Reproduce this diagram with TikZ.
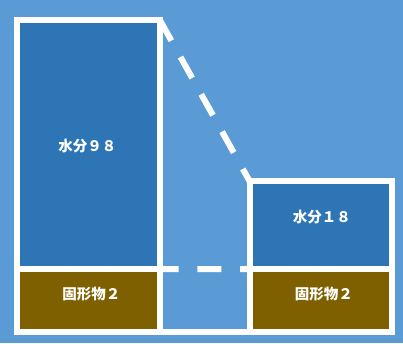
\documentclass[tikz,border=0pt]{standalone}
\usepackage{fontspec}
\newfontfamily\cjk{Noto Sans CJK JP}
\definecolor{bg}{HTML}{5B9BD5}
\definecolor{water}{HTML}{2E75B6}
\definecolor{solid}{HTML}{7F6000}
\begin{document}
\begin{tikzpicture}[x=1pt,y=-1pt,
  blk/.style={draw=white,line width=6pt,outer sep=0pt,inner sep=0pt},
  wline/.style={draw=white,line width=6pt},
  dashln/.style={wline,dash pattern=on 24pt off 18.7pt},
  lbl/.style={text=white,font=\cjk\bfseries\fontsize{14.5}{16}\selectfont,inner sep=0pt}]
\fill[bg] (0,0) rectangle (403,343);
\useasboundingbox (0,0) rectangle (403,343);
% blocks
\node[blk,fill=water,minimum width=142.7pt,minimum height=249.3pt] (lw) at (88.35,144.35) {};
\node[blk,fill=solid,minimum width=142.7pt,minimum height=62.5pt] (ls) at (88.35,300.25) {};
\node[blk,fill=water,minimum width=142.3pt,minimum height=87.7pt] (rw) at (320.85,225.15) {};
\node[blk,fill=solid,minimum width=142.3pt,minimum height=62.5pt] (rs) at (320.85,300.25) {};
% baseline
\draw[wline,line cap=rect] (ls.south west) -- (rs.south east);
% dashed connectors
\draw[dashln] (lw.north east) -- (rw.north west);
\draw[dashln,dash phase=5pt] (lw.south east) -- (rw.south west);
% labels
\node[lbl] (t1) at ([yshift=-1.6pt,xshift=-1pt]lw.center) {水分９８};
\node[lbl] (t2) at ([yshift=6pt,xshift=3pt]ls.center) {固形物２};
\node[lbl] (t3) at ([yshift=8pt,xshift=1pt]rw.center) {水分１８};
\node[lbl] (t4) at ([yshift=6pt,xshift=3pt]rs.center) {固形物２};
\end{tikzpicture}
\end{document}
